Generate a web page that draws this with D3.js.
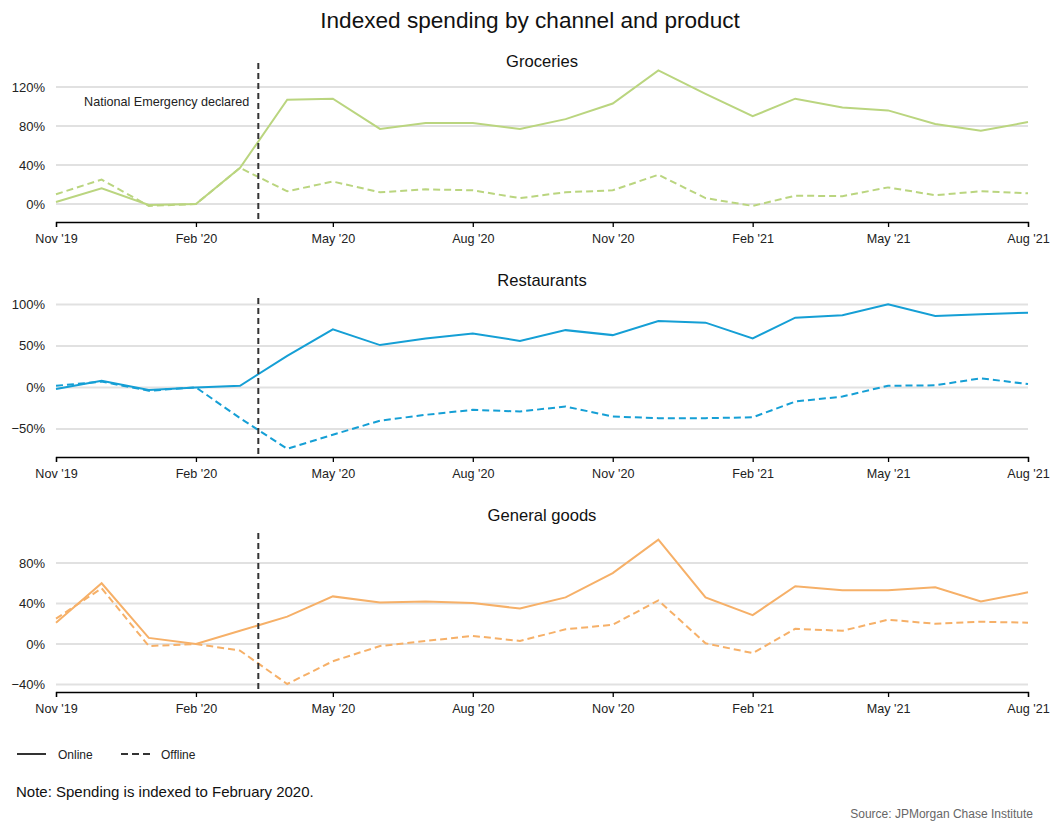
<!DOCTYPE html>
<html>
<head>
<meta charset="utf-8">
<script src="https://cdn.jsdelivr.net/npm/d3@7"></script>
<style>
  html, body { margin: 0; padding: 0; background: #fff; }
  svg { display: block; font-family: "Liberation Sans", Arial, sans-serif; }
</style>
</head>
<body>
<svg id="chart" width="1060" height="829"></svg>
<script>
// ---------- DATA ----------
const months = ["2019-11","2019-12","2020-01","2020-02","2020-03","2020-04","2020-05","2020-06","2020-07","2020-08","2020-09","2020-10","2020-11","2020-12","2021-01","2021-02","2021-03","2021-04","2021-05","2021-06","2021-07","2021-08"];
const xTickMonths = ["2019-11","2020-02","2020-05","2020-08","2020-11","2021-02","2021-05","2021-08"];
const xTickLabels = ["Nov '19","Feb '20","May '20","Aug '20","Nov '20","Feb '21","May '21","Aug '21"];

const panelTitles = ["Groceries","Restaurants","General goods"];
const panelColors = ["#bad57f","#159fd5","#f6b068"];

const groceriesOnline  = [2,16,-1,0,37,107,108,77,83,83,77,87,103,137,113,90,108,99,96,82,75,84];
const groceriesOffline = [10,25,-2,0,37,13,23,12,15,14,6,12,14,30,6,-2,8.5,8,17,9,13,11];
const restaurantsOnline  = [-2,8,-3,0,2,38,70,51,59,65,56,69,63,80,78,59,84,87,100,86,88,90];
const restaurantsOffline = [2,7,-4,0,-37,-74,-57,-40,-33,-27,-29,-23,-35,-37,-37,-36,-17,-11,2,2.5,11,4];
const generalOnline  = [21,60,6,0,13,27,47,41,42,40.5,35,46,70,103,46,28.5,57,53,53,56,42,51];
const generalOffline = [25,55,-2,0,-6.5,-39.5,-17,-2,3,8,3,14.5,19,43,0.7,-9,15,13,24,20,22,21];

const onlineSeries  = [groceriesOnline, restaurantsOnline, generalOnline];
const offlineSeries = [groceriesOffline, restaurantsOffline, generalOffline];

const yDomains = [[-18.5,144.6],[-83.8,107.7],[-47.4,109.6]];
const yTicks = [[0,40,80,120],[-50,0,50,100],[-40,0,40,80]];

const emergencyDate = "2020-03-13";
const emergencyLabel = "National Emergency declared";
const legendLabels = ["Online","Offline"];
const noteText = "Note: Spending is indexed to February 2020.";
const sourceText = "Source: JPMorgan Chase Institute";
const titleText = "Indexed spending by channel and product";

// ---------- LAYOUT ----------
const parse = d3.timeParse("%Y-%m");
const parseDay = d3.timeParse("%Y-%m-%d");
const svg = d3.select("#chart");

const left = 56, right = 1028;
const panelTops = [63, 298, 533];
const panelBottoms = [222, 457, 692];
const titleBaselines = [67, 286, 521];

const x = d3.scaleTime()
  .domain([parse(months[0]), parse(months[months.length - 1])])
  .range([left, right]);

svg.append("text")
  .attr("x", 530).attr("y", 28)
  .attr("text-anchor", "middle")
  .attr("font-size", "22.6px")
  .attr("fill", "#111")
  .text(titleText);

panelTitles.forEach((name, p) => {
  const g = svg.append("g");
  const y = d3.scaleLinear().domain(yDomains[p]).range([panelBottoms[p], panelTops[p]]);

  // gridlines
  g.append("g").selectAll("line").data(yTicks[p]).join("line")
    .attr("x1", left).attr("x2", right)
    .attr("y1", d => y(d)).attr("y2", d => y(d))
    .attr("stroke", "#e1e1e1").attr("stroke-width", 2);

  // y labels
  g.append("g").selectAll("text").data(yTicks[p]).join("text")
    .attr("x", left - 11).attr("y", d => y(d)).attr("dy", "0.35em")
    .attr("text-anchor", "end").attr("font-size", "13px").attr("fill", "#222")
    .text(d => (d < 0 ? "\u2212" + Math.abs(d) : d) + "%");

  // panel title
  g.append("text")
    .attr("x", (left + right) / 2).attr("y", titleBaselines[p])
    .attr("text-anchor", "middle").attr("font-size", "16.6px").attr("fill", "#111")
    .text(name);

  // x axis
  const xAxis = d3.axisBottom(x)
    .tickValues(xTickMonths.map(parse))
    .tickFormat((d, i) => xTickLabels[i])
    .tickSize(5).tickPadding(7);
  const ax = g.append("g").attr("transform", `translate(0,${panelBottoms[p]})`).call(xAxis);
  ax.select(".domain").attr("stroke", "#000").attr("stroke-width", 1.3);
  ax.selectAll(".tick line").attr("stroke", "#000").attr("stroke-width", 1.3);
  ax.selectAll(".tick text").attr("font-size", "12.6px").attr("fill", "#222")
    .attr("font-family", "Liberation Sans, Arial, sans-serif");

  // lines
  const line = d3.line().x((d, i) => x(parse(months[i]))).y(d => y(d));
  g.append("path").datum(offlineSeries[p])
    .attr("fill", "none").attr("stroke", panelColors[p]).attr("stroke-width", 2)
    .attr("stroke-dasharray", "7,4").attr("d", line);
  g.append("path").datum(onlineSeries[p])
    .attr("fill", "none").attr("stroke", panelColors[p]).attr("stroke-width", 2)
    .attr("d", line);

  // emergency line
  const ex = x(parseDay(emergencyDate));
  g.append("line")
    .attr("x1", ex).attr("x2", ex)
    .attr("y1", panelTops[p]).attr("y2", panelBottoms[p])
    .attr("stroke", "#333").attr("stroke-width", 2).attr("stroke-dasharray", "6,4");

  if (p === 0) {
    g.append("text")
      .attr("x", ex - 9).attr("y", 106)
      .attr("text-anchor", "end").attr("font-size", "12.6px").attr("fill", "#222")
      .text(emergencyLabel);
  }
});

// legend
const lg = svg.append("g");
lg.append("line").attr("x1", 17).attr("x2", 46).attr("y1", 754).attr("y2", 754)
  .attr("stroke", "#333").attr("stroke-width", 2);
lg.append("text").attr("x", 58).attr("y", 758.5).attr("font-size", "12px").attr("fill", "#222").text(legendLabels[0]);
lg.append("line").attr("x1", 121).attr("x2", 150).attr("y1", 754).attr("y2", 754)
  .attr("stroke", "#333").attr("stroke-width", 2).attr("stroke-dasharray", "7,4");
lg.append("text").attr("x", 161).attr("y", 758.5).attr("font-size", "12px").attr("fill", "#222").text(legendLabels[1]);

svg.append("text").attr("x", 16).attr("y", 796.5).attr("font-size", "15px").attr("fill", "#111").text(noteText);
svg.append("text").attr("x", 1033).attr("y", 818).attr("text-anchor", "end")
  .attr("font-size", "12px").attr("fill", "#666").text(sourceText);
</script>
</body>
</html>
